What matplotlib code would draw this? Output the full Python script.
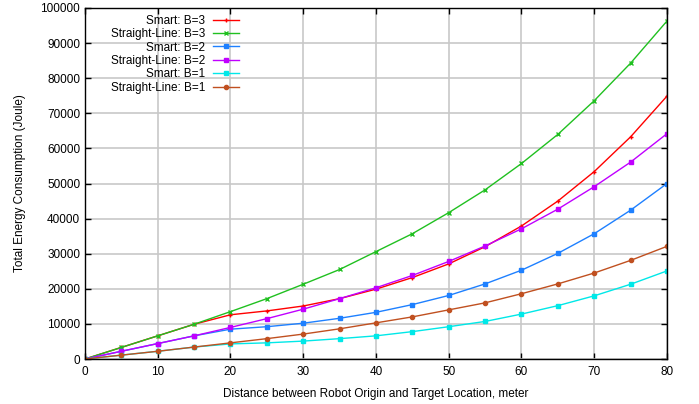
import numpy as np
import matplotlib.pyplot as plt

plt.rcParams['font.family'] = ['Liberation Sans', 'DejaVu Sans']

# distance (meter)
dist = [0, 5, 10, 15, 20, 25, 30, 35, 40, 45, 50, 55, 60, 65, 70, 75, 80]
# energy (Joule)
smart_b3 = [0, 3300, 6600, 9900, 12600, 13700, 15100, 17200, 19900, 23200, 27100,
            32000, 37900, 45000, 53400, 63300, 74900]
straight_b3 = [0, 3300, 6600, 9900, 13500, 17200, 21300, 25500, 30600, 35700, 41700,
               48200, 55700, 64000, 73600, 84300, 96300]
smart_b2 = [0, 2200, 4400, 6600, 8500, 9200, 10200, 11600, 13300, 15500, 18100,
            21400, 25300, 30100, 35700, 42400, 50000]
straight_b2 = [0, 2200, 4400, 6600, 9000, 11500, 14200, 17200, 20300, 23800, 27800,
               32200, 37100, 42700, 49100, 56100, 64200]
smart_b1 = [0, 1100, 2200, 3400, 4300, 4600, 5100, 5800, 6600, 7800, 9200,
            10700, 12800, 15200, 18000, 21300, 25100]
straight_b1 = [0, 1100, 2200, 3400, 4600, 5800, 7100, 8600, 10300, 12000, 14000,
               16000, 18600, 21400, 24500, 28100, 32100]

fs = 8.5
fig = plt.figure(figsize=(6.99, 4.04), dpi=100)
ax = fig.add_axes([85/699, 1-359/404, (667-85)/699, (359-8)/404])

ax.plot(dist, smart_b3, color='#ff0000', marker='+', ms=3, lw=1, label='Smart: B=3')
ax.plot(dist, straight_b3, color='#20c020', marker='x', ms=3, lw=1, label='Straight-Line: B=3')
ax.plot(dist, smart_b2, color='#1e80ff', marker='s', ms=2.5, lw=1, label='Smart: B=2')
ax.plot(dist, straight_b2, color='#c000ff', marker='s', ms=3.5, lw=1, label='Straight-Line: B=2')
ax.plot(dist, smart_b1, color='#00e8e8', marker='s', ms=3.5, lw=1, label='Smart: B=1')
ax.plot(dist, straight_b1, color='#c05020', marker='o', ms=3, lw=1, label='Straight-Line: B=1')

ax.set_xlim(0, 80)
ax.set_ylim(0, 100000)
ax.set_xticks(np.arange(0, 81, 10))
ax.set_yticks(np.arange(0, 100001, 10000))
ax.grid(True, color='#c8c8c8', lw=1.2)
ax.set_axisbelow(True)
ax.tick_params(direction='in', top=True, right=True, labelsize=fs, length=4, width=1)
ax.tick_params(axis='x', pad=5)
for s in ax.spines.values():
    s.set_linewidth(1)

ax.set_xlabel('Distance between Robot Origin and Target Location, meter', fontsize=fs, labelpad=7)
ax.set_ylabel('Total Energy Consumption (Joule)', fontsize=fs, labelpad=10)

leg = ax.legend(loc='upper left', bbox_to_anchor=(0.044, 0.981), markerfirst=False,
                frameon=False, fontsize=fs, handlelength=2.2, labelspacing=0.12,
                handletextpad=0.7, borderaxespad=0, borderpad=0)

fig.savefig('out.png', dpi=100)
